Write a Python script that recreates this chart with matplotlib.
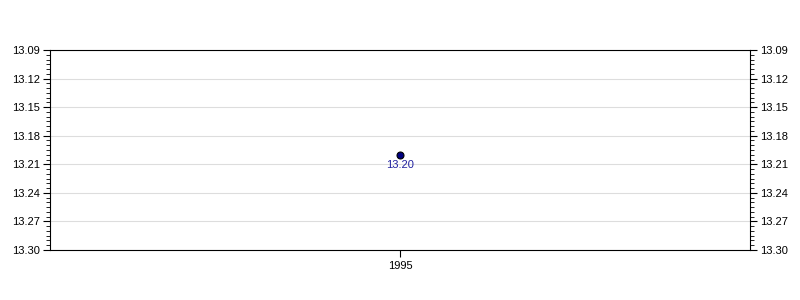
import matplotlib
matplotlib.use('Agg')
import matplotlib.pyplot as plt
import numpy as np
from matplotlib.ticker import FixedLocator, FormatStrFormatter

plt.rcParams['font.family'] = ['Liberation Sans', 'DejaVu Sans']

# data
years = [1995]
values = [13.20]
y_top, y_bottom = 13.09, 13.30
y_step = 0.03

fig = plt.figure(figsize=(8, 3), dpi=100)
ax = fig.add_axes([50 / 800, 50 / 300, 700 / 800, 200 / 300])

ax.plot(years, values, 'o', color='#000080', markeredgecolor='black',
        markersize=5, markeredgewidth=0.8, zorder=3)
for x, v in zip(years, values):
    ax.annotate(f'{v:.2f}', (x, v), xytext=(0, -4), textcoords='offset points',
                ha='center', va='top', fontsize=8, color='#2222a0')

ax.set_xlim(years[0] - 1, years[0] + 1)
ax.set_xticks(years)
ax.set_ylim(y_bottom, y_top)
major = np.round(np.arange(y_top, y_bottom + 1e-9, y_step), 2)
minor = np.arange(y_top, y_bottom + 1e-9, y_step / 6)
ax.yaxis.set_major_locator(FixedLocator(major))
ax.yaxis.set_minor_locator(FixedLocator(minor))
ax.yaxis.set_major_formatter(FormatStrFormatter('%.2f'))
ax.grid(axis='y', color='#dddddd', linewidth=0.8)
ax.set_axisbelow(True)

ax.tick_params(axis='y', which='major', length=5, labelsize=8, left=True, right=True,
               labelleft=True, labelright=True, pad=2)
ax.tick_params(axis='y', which='minor', length=3, left=True, right=True)
ax.tick_params(axis='x', length=5, labelsize=8, pad=3)
for s in ax.spines.values():
    s.set_linewidth(0.8)

fig.savefig('out.png', dpi=100)
